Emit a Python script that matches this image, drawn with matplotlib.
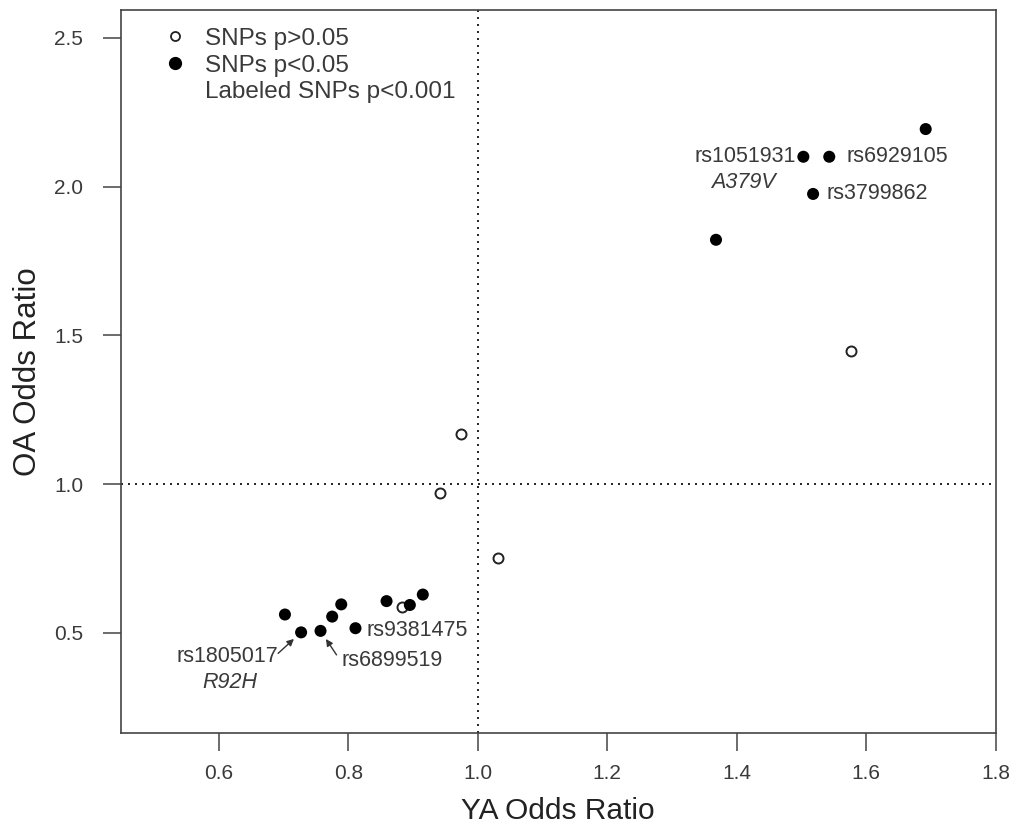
import matplotlib
matplotlib.use("Agg")
import matplotlib.pyplot as plt
from matplotlib.lines import Line2D

plt.rcParams['font.family'] = ['Liberation Sans', 'DejaVu Sans']

# SNPs with p > 0.05 (open circles)
ya_ns = [0.974, 0.942, 1.031, 1.577, 0.883]
oa_ns = [1.170, 0.969, 0.751, 1.449, 0.586]

# SNPs with p < 0.05 (filled)
ya_sig = [0.702, 0.727, 0.757, 0.775, 0.789, 0.811, 0.859, 0.895, 0.915,
          1.692, 1.503, 1.543, 1.518, 1.368]
oa_sig = [0.562, 0.502, 0.507, 0.555, 0.596, 0.516, 0.607, 0.594, 0.629,
          2.193, 2.100, 2.100, 1.975, 1.821]

# labeled SNPs (p < 0.001): name, index into the *_sig lists
lab_names = ['rs1051931', 'rs6929105', 'rs3799862', 'rs9381475', 'rs6899519', 'rs1805017']
lab_idx = [10, 11, 12, 5, 2, 1]
aa_change = {'rs1051931': 'A379V', 'rs1805017': 'R92H'}

xticks = [0.6, 0.8, 1.0, 1.2, 1.4, 1.6, 1.8]
yticks = [0.5, 1.0, 1.5, 2.0, 2.5]

txt_col = '#3a3a3a'
ax_col = '#444444'

fig = plt.figure(figsize=(10.18, 8.27), dpi=100)
ax = fig.add_axes([0.1184, 0.1137, 0.8596, 0.8742])

ax.axvline(1.0, color='black', lw=1.2, ls=(0, (1.2, 3.0)), zorder=1)
ax.axhline(1.0, color='black', lw=1.2, ls=(0, (1.2, 3.0)), zorder=1)

ax.scatter(ya_ns, oa_ns, s=52, facecolors='white', edgecolors='#222222',
           linewidths=1.4, zorder=3)
ax.scatter(ya_sig, oa_sig, s=75, color='black', edgecolors='none', zorder=4)

# text offsets in pixels relative to the point
offsets = {
    'rs1051931': ((-7, 0), 'right'),
    'rs6929105': ((17, 0), 'left'),
    'rs3799862': ((13, 0), 'left'),
    'rs9381475': ((11, -2), 'left'),
    'rs6899519': ((21, -30), 'left'),
    'rs1805017': ((-23, -24), 'right'),
}
aa_offsets = {'rs1051931': (-60, -26), 'rs1805017': (-71, -50)}
arrows = {'rs6899519': (16, -24), 'rs1805017': (-23, -21)}

for name, i in zip(lab_names, lab_idx):
    pt = (ya_sig[i], oa_sig[i])
    off, ha = offsets[name]
    ax.annotate(name, pt, xytext=off, textcoords='offset pixels',
                ha=ha, va='center', fontsize=15.5, color=txt_col, zorder=5)
    if name in aa_change:
        ax.annotate(aa_change[name], pt, xytext=aa_offsets[name],
                    textcoords='offset pixels', ha='center', va='center',
                    fontsize=15.5, style='italic', color=txt_col)
    if name in arrows:
        ax.annotate('', pt, xytext=arrows[name], textcoords='offset pixels',
                    arrowprops=dict(arrowstyle='-|>', color='#333333', lw=1.0,
                                    shrinkA=0, shrinkB=7, mutation_scale=10))

handles = [
    Line2D([], [], ls='none', marker='o', ms=6.5, mfc='white', mec='#222222', mew=1.3),
    Line2D([], [], ls='none', marker='o', ms=8.5, mfc='black', mec='black'),
    Line2D([], [], ls='none'),
]
ax.legend(handles, ['SNPs p>0.05', 'SNPs p<0.05', 'Labeled SNPs p<0.001'],
          loc='upper left', bbox_to_anchor=(0.048, 0.9755), frameon=False,
          fontsize=17.5, handlelength=1.0, handletextpad=0.73, labelspacing=0.2,
          borderpad=0, borderaxespad=0, labelcolor=txt_col)

ax.set_xlim(0.448, 1.8)
ax.set_ylim(0.164, 2.593)
ax.set_xticks(xticks)
ax.set_yticks(yticks)
ax.set_xticklabels([f'{v:.1f}' for v in xticks])
ax.set_yticklabels([f'{v:.1f}' for v in yticks])
ax.tick_params(direction='out', length=13, width=1.1, colors=ax_col,
               labelcolor=txt_col, labelsize=15)
ax.tick_params(axis='x', pad=9)
ax.tick_params(axis='y', pad=14)
for sp in ax.spines.values():
    sp.set_color(ax_col)
    sp.set_linewidth(1.2)

ax.set_xlabel('YA Odds Ratio', fontsize=21.5, color='#222222')
ax.set_ylabel('OA Odds Ratio', fontsize=22.5, color='#222222')
ax.xaxis.set_label_coords(0.5, -0.088)
ax.yaxis.set_label_coords(-0.089, 0.5)

fig.savefig('out.png', dpi=100)
